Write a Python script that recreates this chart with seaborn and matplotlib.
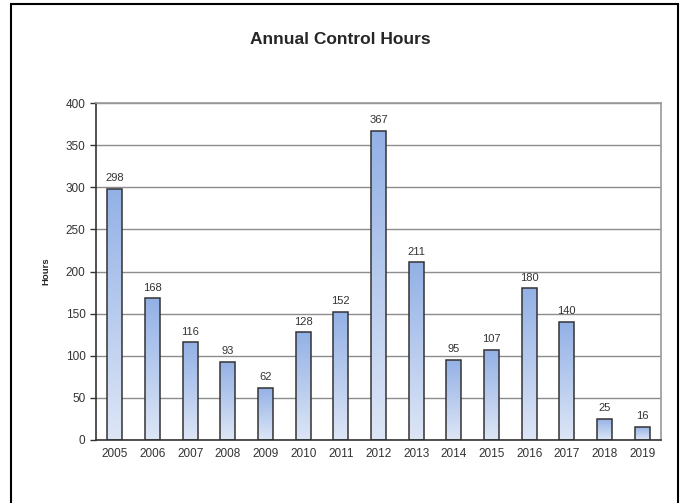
import matplotlib.pyplot as plt
import numpy as np
import pandas as pd
import seaborn as sns
from matplotlib.patches import Rectangle
from matplotlib.colors import LinearSegmentedColormap

years = ['2005', '2006', '2007', '2008', '2009', '2010', '2011', '2012',
         '2013', '2014', '2015', '2016', '2017', '2018', '2019']
hours = [298, 168, 116, 93, 62, 128, 152, 367, 211, 95, 107, 180, 140, 25, 16]

df = pd.DataFrame({'year': years, 'hours': hours})

sns.set_style('white')
plt.rcParams['font.family'] = ['Liberation Sans', 'DejaVu Sans']

fig = plt.figure(figsize=(6.81, 5.03), dpi=100)
ax = fig.add_axes([96 / 681, 1 - 440 / 503, (661 - 96) / 681, (440 - 103) / 503])

sns.barplot(data=df, x='year', y='hours', ax=ax, width=0.39,
            color='#9ab5e6', edgecolor='#333333', linewidth=1.1, zorder=3)

# vertical gradient inside each bar (darker blue on top)
cmap = LinearSegmentedColormap.from_list('grad', ['#dde6f6', '#93b1e6'])
grad = np.linspace(0, 1, 256).reshape(-1, 1)
for p in ax.patches:
    x0, w, h = p.get_x(), p.get_width(), p.get_height()
    p.set_facecolor('none')
    im = ax.imshow(grad, extent=[x0, x0 + w, 0, h], origin='lower', cmap=cmap,
                   aspect='auto', zorder=2.5)
    im.set_clip_path(p)

ax.bar_label(ax.containers[0], padding=4, fontsize=8, color='#333333')

ax.set_xlim(-0.5, len(years) - 0.5)
ax.set_ylim(0, 400)
ax.set_yticks(range(0, 401, 50))
ax.yaxis.grid(True, color='#8c8c8c', linewidth=1, zorder=0)
ax.set_axisbelow(True)

ax.set_xticks(range(len(years)))
ax.set_xticklabels(years)
ax.set_xticks(np.arange(-0.5, len(years), 1), minor=True)
ax.tick_params(axis='x', which='major', length=0, labelsize=8.5, colors='#333333', pad=6)
ax.tick_params(axis='x', which='minor', length=4, width=1, color='#333333', direction='out')
ax.tick_params(axis='y', length=4, width=1, direction='out', labelsize=8.5,
               colors='#333333', left=True)

for side in ['left', 'bottom']:
    ax.spines[side].set_color('#333333')
    ax.spines[side].set_linewidth(1.2)
for side in ['top', 'right']:
    ax.spines[side].set_color('#9a9a9a')
    ax.spines[side].set_linewidth(1.2)

ax.set_xlabel('')
ax.set_ylabel('Hours', fontsize=6.8, fontweight='bold')
ax.yaxis.set_label_coords(-0.081, 0.5)

fig.text(0.5, 1 - 40 / 503, 'Annual Control Hours', ha='center', va='center',
         fontsize=12.5, fontweight='bold')

# outer frame
fig.patches.append(Rectangle((11 / 681, -0.02), (678 - 11) / 681, 1.02 - 4 / 503,
                             transform=fig.transFigure, fill=False,
                             edgecolor='black', linewidth=1.5))

fig.savefig('out.png', dpi=100)
